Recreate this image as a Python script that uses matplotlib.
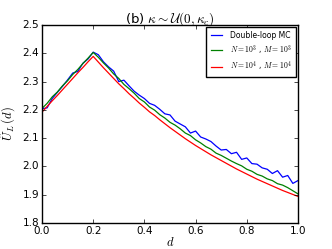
import numpy as np
import matplotlib
matplotlib.use("Agg")
import matplotlib.pyplot as plt

plt.style.use("classic")

# distance grid
d = np.linspace(0.0, 1.0, 51)

# Double-loop Monte Carlo estimate
u_mc = [2.204, 2.207, 2.240, 2.262, 2.283, 2.306, 2.330, 2.336, 2.365, 2.380, 2.404,
        2.395, 2.370, 2.352, 2.337, 2.300, 2.305, 2.285, 2.266, 2.252, 2.240,
        2.223, 2.216, 2.202, 2.186, 2.182, 2.160, 2.150, 2.140, 2.118, 2.125,
        2.104, 2.097, 2.088, 2.072, 2.058, 2.060, 2.045, 2.050, 2.025, 2.030,
        2.010, 2.008, 1.995, 1.990, 1.975, 1.985, 1.962, 1.968, 1.940, 1.950]

# N = 10^3, M = 10^3
u_n3 = [2.205, 2.223, 2.246, 2.263, 2.285, 2.303, 2.325, 2.343, 2.364, 2.383, 2.403,
        2.386, 2.366, 2.348, 2.327, 2.311, 2.290, 2.275, 2.259, 2.240, 2.228,
        2.210, 2.199, 2.183, 2.171, 2.156, 2.146, 2.133, 2.118, 2.109, 2.094,
        2.083, 2.070, 2.061, 2.047, 2.039, 2.029, 2.019, 2.010, 2.002, 1.990,
        1.983, 1.972, 1.966, 1.956, 1.950, 1.939, 1.934, 1.925, 1.914, 1.903]

# N = 10^4, M = 10^4
u_n4 = [2.192, 2.212, 2.232, 2.251, 2.271, 2.291, 2.311, 2.331, 2.350, 2.370, 2.389,
        2.369, 2.349, 2.330, 2.311, 2.292, 2.275, 2.257, 2.241, 2.224, 2.209,
        2.193, 2.180, 2.165, 2.151, 2.137, 2.124, 2.111, 2.098, 2.086, 2.074,
        2.063, 2.052, 2.041, 2.031, 2.021, 2.011, 2.001, 1.991, 1.982, 1.973,
        1.964, 1.955, 1.947, 1.939, 1.931, 1.923, 1.915, 1.908, 1.901, 1.894]

fig = plt.figure(figsize=(3.32, 2.49), dpi=100)
ax = fig.add_axes([0.1265, 0.1044, 0.771, 0.7952])

ax.plot(d, u_mc, color="b", lw=0.9, label="Double-loop MC")
ax.plot(d, u_n3, color="g", lw=0.9, label=r"$N=10^3$ , $M=10^3$")
ax.plot(d, u_n4, color="r", lw=0.9, label=r"$N=10^4$ , $M=10^4$")

ax.set_xlim(0, 1)
ax.set_ylim(1.8, 2.5)
ax.set_xticks([0.0, 0.2, 0.4, 0.6, 0.8, 1.0])
ax.set_yticks([1.8, 1.9, 2.0, 2.1, 2.2, 2.3, 2.4, 2.5])
ax.tick_params(labelsize=7.5, length=3, pad=2)
ax.set_xlabel(r"$d$", fontsize=9, labelpad=0)
ax.set_ylabel(r"$\hat{U}_L\,(d)$", fontsize=9, labelpad=3)
ax.set_title(r"(b) $\kappa \sim \mathcal{U}(0,\kappa_c)$", fontsize=9.5, pad=2)

ax.legend(loc="upper right", fontsize=5.5, handlelength=2.0, borderpad=0.45,
          labelspacing=0.4, borderaxespad=0.3, fancybox=False)

fig.savefig("out.png", dpi=100)
